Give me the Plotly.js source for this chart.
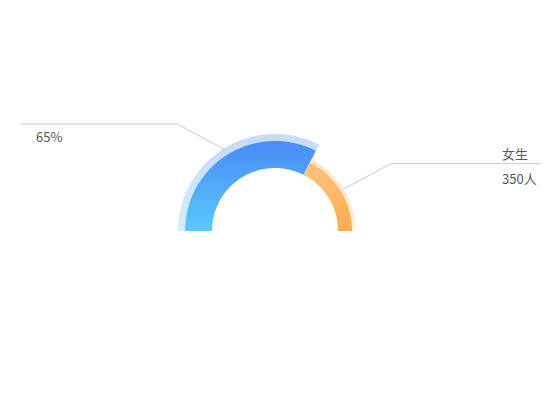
<!DOCTYPE html>
<html>
<head>
<meta charset="utf-8">
<script src="https://cdn.plot.ly/plotly-3.0.1.min.js"></script>
<style>
  html, body { margin: 0; padding: 0; background: #fff; }
  #chart { width: 550px; height: 420px; }
</style>
</head>
<body>
<div id="chart"></div>
<script>
// data
const categories = ['男生', '女生']
const counts = [650, 350]
const unit = '人'

// layout in pixel units (axes are set to the page size)
const W = 550, H = 420
const cx = 275, cy = 231
const rings = [
  {main: [63, 90], halo: [90, 97], grad: ['#5bc9ff', '#4a8af6'], halograd: ['#d6edfc', '#c6dbf8']},
  {main: [63, 77], halo: [77, 80.5], grad: ['#ffaa52', '#ffc47f'], halograd: ['#ffeeda', '#ffe6c9']},
]
const lineColor = '#c9c9c9'
const textColor = '#595959'
const font = '"Noto Sans CJK SC", "Noto Sans", sans-serif'

const {sin, cos, PI, round} = Math
const total = counts.reduce((a, b) => a + b, 0)
const deg = (a) => a * PI / 180

// angle ranges, from 180 (left) clockwise down to 0 (right)
let angles = []
let a = 180
for (let i = 0; i < counts.length; i++) {
  let sweep = 180 * counts[i] / total
  angles.push([a, a - sweep])
  a -= sweep
}

function arc(a0, a1, r0, r1) {
  let xs = [], ys = []
  let n = 80
  for (let k = 0; k <= n; k++) {
    let t = deg(a0 + (a1 - a0) * k / n)
    xs.push(cx + r1 * cos(t)); ys.push(cy - r1 * sin(t))
  }
  for (let k = n; k >= 0; k--) {
    let t = deg(a0 + (a1 - a0) * k / n)
    xs.push(cx + r0 * cos(t)); ys.push(cy - r0 * sin(t))
  }
  xs.push(xs[0]); ys.push(ys[0])
  return {xs, ys}
}

// colorscale goes bottom -> top on screen
function ringTrace(a0, a1, [r0, r1], [bottom, top]) {
  let p = arc(a0, a1, r0, r1)
  return {
    x: p.xs, y: p.ys,
    type: 'scatter', mode: 'none',
    fill: 'toself',
    fillgradient: {type: 'vertical', colorscale: [[0, bottom], [1, top]]},
    hoverinfo: 'skip',
  }
}

let traces = []
for (let i = 0; i < counts.length; i++) {
  let [a0, a1] = angles[i]
  traces.push(ringTrace(a0, a1, rings[i].halo, rings[i].halograd))
  traces.push(ringTrace(a0, a1, rings[i].main, rings[i].grad))
}

// leader lines from slice middle
function leader(i, rStart, knee, endX) {
  let mid = deg((angles[i][0] + angles[i][1]) / 2)
  let x0 = cx + rStart * cos(mid), y0 = cy - rStart * sin(mid)
  return {
    x: [x0, x0 + knee[0], endX], y: [y0, y0 + knee[1], y0 + knee[1]],
    type: 'scatter', mode: 'lines',
    line: {color: lineColor, width: 1},
    hoverinfo: 'skip',
  }
}
traces.push(leader(0, 95, [-48, -26], 20))
traces.push(leader(1, 81, [47, -25], 541))

let pct = counts.map(c => round(c / total * 100) + '%')

let annotations = [
  {x: 34, y: 136, text: pct[0]},
  {x: 500, y: 153, text: categories[1]},
  {x: 500, y: 178, text: counts[1] + unit},
].map(an => Object.assign({
  xref: 'x', yref: 'y', xanchor: 'left', yanchor: 'middle',
  showarrow: false, font: {size: 13, color: textColor, family: font},
}, an))

Plotly.newPlot('chart', traces, {
  width: W, height: H,
  margin: {l: 0, r: 0, t: 0, b: 0},
  paper_bgcolor: '#fff', plot_bgcolor: '#fff',
  showlegend: false,
  xaxis: {range: [0, W], visible: false, fixedrange: true},
  yaxis: {range: [H, 0], visible: false, fixedrange: true},
  annotations,
}, {displayModeBar: false, staticPlot: true})
</script>
</body>
</html>
